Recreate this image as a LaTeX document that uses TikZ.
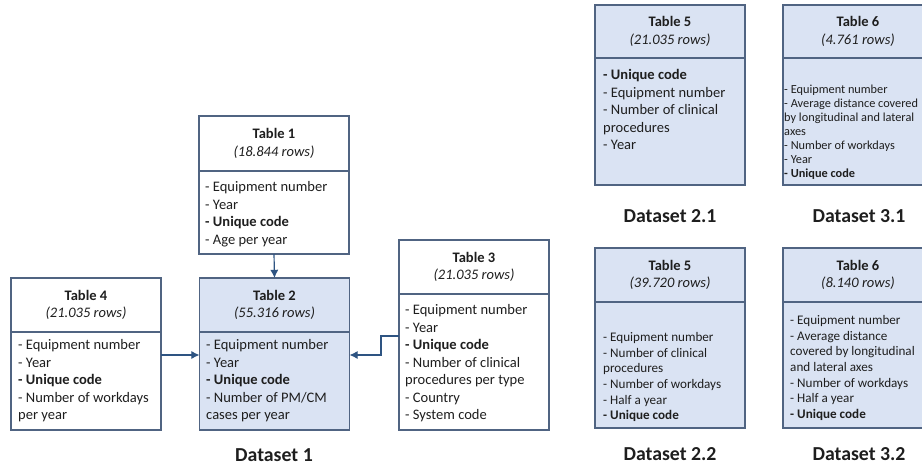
\documentclass[tikz,border=0pt]{standalone}
\usepackage{fontspec}
\setmainfont{Carlito}
\usepackage{xcolor}
\usepackage{tikz}
\usetikzlibrary{arrows.meta, positioning}

\definecolor{tblfill}{RGB}{218,227,243}
\definecolor{tblline}{RGB}{80,100,130}
\definecolor{linkcol}{RGB}{46,84,130}
\definecolor{txtcol}{RGB}{30,30,30}

\tikzset{
  tblhead/.style={draw=tblline, line width=1pt, minimum width=4.5cm, minimum height=1.62cm,
    inner sep=0pt, outer sep=0pt, align=center, text=txtcol,
    font=\fontsize{12.4}{14.9}\selectfont},
  tblbody/.style={draw=tblline, line width=1pt, minimum width=4.5cm,
    inner sep=0pt, outer sep=0pt},
  shaded/.style={fill=tblfill},
  items/.style={anchor=north west, inner sep=0pt, align=left, text=txtcol,
    font=\fontsize{12.4}{14.9}\selectfont},
  smallitems/.style={items, font=\fontsize{10.5}{11.95}\selectfont},
  miditems/.style={items, font=\fontsize{11.2}{13.4}\selectfont},
  dslabel/.style={inner sep=0pt, text=txtcol, font=\fontsize{16.9}{20}\selectfont\bfseries},
  link/.style={draw=linkcol, line width=1pt, -{Latex[length=7pt,width=7pt]}}
}

\begin{document}
\begin{tikzpicture}[x=0.03cm, y=-0.03cm]
				\useasboundingbox (0,0) rectangle (922,465);
				\clip (0,0) rectangle (922,465);
				% Dataset 1
				\node[tblhead, minimum height=1.65cm] (t1h) at (274,143.5) {\textbf{Table 1}\\\textit{(18.844 rows)}};
				\node[tblbody, minimum height=2.49cm, below=0pt of t1h] (t1b) {};
				\node[items] (t1t) at (205,179.4) {\strut- Equipment number\\- Year\\\textbf{- Unique code}\\- Age per year};
				\node[tblhead, shaded] (t2h) at (274.5,305) {\textbf{Table 2}\\\textit{(55.316 rows)}};
				\node[tblbody, shaded, minimum height=2.94cm, below=0pt of t2h] (t2b) {};
				\node[items] (t2t) at (206,337.4) {\strut- Equipment number\\- Year\\\textbf{- Unique code}\\- Number of PM/CM\\cases per year};
				\node[tblhead] (t4h) at (86,305) {\textbf{Table 4}\\\textit{(21.035 rows)}};
				\node[tblbody, minimum height=2.94cm, below=0pt of t4h] (t4b) {};
				\node[items] (t4t) at (18,337.4) {\strut- Equipment number\\- Year\\\textbf{- Unique code}\\- Number of workdays\\per year};
				\node[tblhead] (t3h) at (474,267) {\textbf{Table 3}\\\textit{(21.035 rows)}};
				\node[tblbody, minimum height=4.08cm, below=0pt of t3h] (t3b) {};
				\node[items] (t3t) at (405,302.4) {\strut- Equipment number\\- Year\\\textbf{- Unique code}\\- Number of clinical\\procedures per type\\- Country\\- System code};
				\coordinate (bend1) at (381,336);
				\coordinate (bend2) at (381,355);
				\draw[link] (t1b.south) -- (t2h.north);
				\draw[link] (t4b.east |- bend2) -- (t2b.west |- bend2);
				\draw[link] (t3b.west |- bend1) -- (bend1) -- (bend2) -- (t2b.east |- bend2);
				\node[dslabel] (ds1) at (274,455) {Dataset 1};
				% Datasets 2.1 and 3.1
				\node[tblhead, shaded, minimum height=1.59cm] (t5h) at (670,31.5) {\textbf{Table 5}\\\textit{(21.035 rows)}};
				\node[tblbody, shaded, minimum height=3.81cm, below=0pt of t5h] (t5b) {};
				\node[items] (t5t) at (603,67.4) {\strut\textbf{- Unique code}\\- Equipment number\\- Number of clinical\\procedures\\- Year};
				\node[tblhead, shaded, minimum height=1.59cm] (t6h) at (858,31.5) {\textbf{Table 6}\\\textit{(4.761 rows)}};
				\node[tblbody, shaded, minimum height=3.81cm, below=0pt of t6h] (t6b) {};
				\node[smallitems] (t6t) at (784,83.1) {\strut- Equipment number\\- Average distance covered\\by longitudinal and lateral\\axes\\- Number of workdays\\- Year\\\textbf{- Unique code}};
				\node[dslabel] (ds21) at (670,216.5) {Dataset 2.1};
				\node[dslabel] (ds31) at (859,216.5) {Dataset 3.1};
				% Datasets 2.2 and 3.2
				\node[tblhead, shaded] (t5hh) at (670,275) {\textbf{Table 5}\\\textit{(39.720 rows)}};
				\node[tblbody, shaded, minimum height=3.78cm, below=0pt of t5hh] (t5bb) {};
				\node[miditems] (t5tt) at (603,330.2) {\strut- Equipment number\\- Number of clinical\\procedures\\- Number of workdays\\- Half a year\\\textbf{- Unique code}};
				\node[tblhead, shaded] (t6hh) at (858,275) {\textbf{Table 6}\\\textit{(8.140 rows)}};
				\node[tblbody, shaded, minimum height=3.78cm, below=0pt of t6hh] (t6bb) {};
				\node[miditems] (t6tt) at (790,313.2) {\strut- Equipment number\\- Average distance\\covered by longitudinal\\and lateral axes\\- Number of workdays\\- Half a year\\\textbf{- Unique code}};
				\node[dslabel] (ds22) at (670,454) {Dataset 2.2};
				\node[dslabel] (ds32) at (859,454) {Dataset 3.2};
			\end{tikzpicture}
\end{document}
